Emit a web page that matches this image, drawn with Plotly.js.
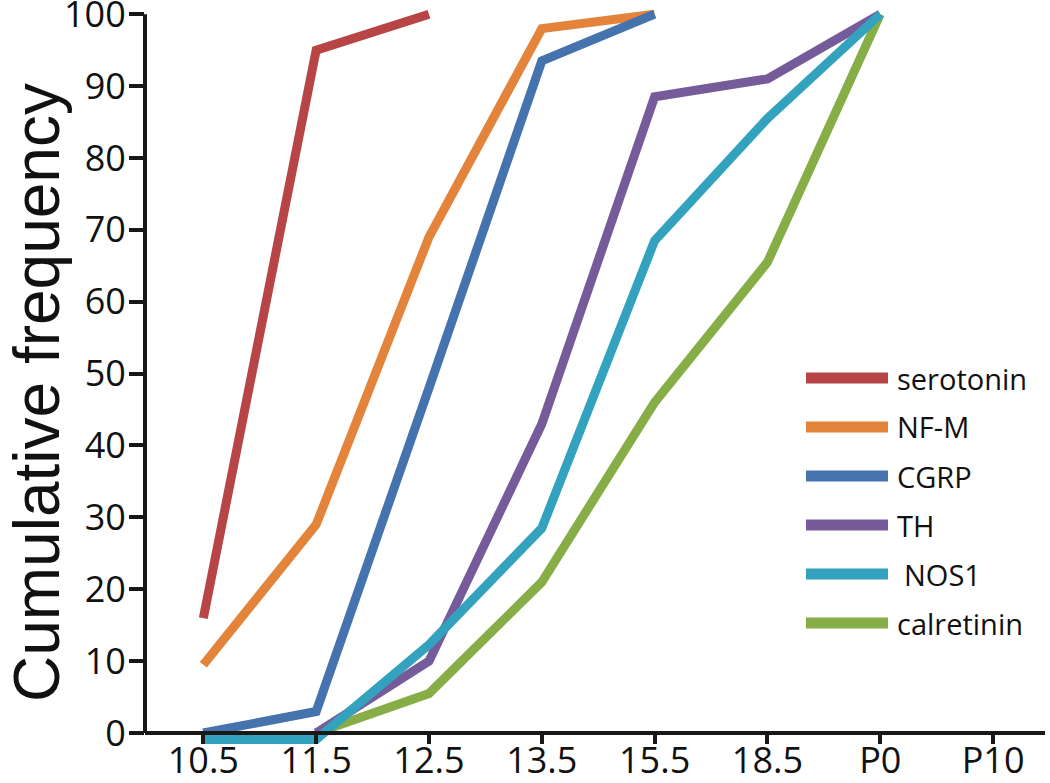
<!DOCTYPE html>
<html>
<head>
<meta charset="utf-8">
<script src="https://cdn.plot.ly/plotly-3.0.1.min.js"></script>
<style>html,body{margin:0;padding:0;background:#fff;}#chart{width:1050px;height:783px;}</style>
</head>
<body>
<div id="chart"></div>
<script>
// ---- data ----
var stages = ["10.5", "11.5", "12.5", "13.5", "15.5", "18.5", "P0", "P10"];
var serotonin  = [16, 95, 100, null, null, null, null, null];
var nfm        = [9.5, 29, 69, 98, 100, null, null, null];
var cgrp       = [0, 3, 48, 93.5, 100, null, null, null];
var th         = [null, 0, 10, 43, 88.5, 91, 100, null];
var nos1       = [-0.9, -0.9, 12.3, 28.5, 68.5, 85.5, 100, null];
var calretinin = [null, 0, 5.5, 21, 46, 65.5, 100, null];
var seriesNames = ["serotonin", "NF-M", "CGRP", "TH", "NOS1", "calretinin"];
var yTickVals = [0, 10, 20, 30, 40, 50, 60, 70, 80, 90, 100];
var yTitle = "Cumulative frequency";

// ---- styling ----
var colors = {
  "serotonin": "#B84545",
  "NF-M": "#E3843A",
  "CGRP": "#4473AE",
  "TH": "#765B9A",
  "NOS1": "#33A2BF",
  "calretinin": "#87AE46"
};
var values = {
  "serotonin": serotonin, "NF-M": nfm, "CGRP": cgrp,
  "TH": th, "NOS1": nos1, "calretinin": calretinin
};
var drawOrder = ["serotonin", "NF-M", "CGRP", "calretinin", "TH", "NOS1"];

var traces = drawOrder.map(function (n) {
  return {
    type: "scatter", mode: "lines", name: n,
    x: stages, y: values[n],
    line: {color: colors[n], width: 9},
    connectgaps: false, showlegend: false, hoverinfo: "x+y+name"
  };
});

var W = 1050, H = 783;
var mL = 145, mR = 5, mT = 7, mB = 32;
var pw = W - mL - mR, ph = H - mT - mB;
var yMin = -2.5, yMax = 101;

function px2paperX(px) { return (px - mL) / pw; }
function px2paperY(py) { return (H - mB - py) / ph; }

var shapes = [
  // y axis line from 0 to 100
  {type: "line", xref: "paper", yref: "y", x0: 0, x1: 0, y0: 0, y1: 100,
   line: {color: "#1a1718", width: 4}, layer: "above"}
];
var annotations = [
  {xref: "paper", yref: "paper", x: px2paperX(37), y: px2paperY(393),
   xanchor: "center", yanchor: "middle", textangle: -90, showarrow: false,
   text: yTitle,
   font: {family: "Liberation Sans, Arial, sans-serif", size: 64, color: "#111"}}
];
var rowY0 = 378, rowStep = 49;
seriesNames.forEach(function (n, i) {
  var py = rowY0 + i * rowStep;
  shapes.push({type: "line", xref: "paper", yref: "paper",
    x0: px2paperX(806), x1: px2paperX(888), y0: px2paperY(py), y1: px2paperY(py),
    line: {color: colors[n], width: 11}});
  annotations.push({xref: "paper", yref: "paper",
    x: px2paperX(n === "NOS1" ? 902 : 895), y: px2paperY(py),
    xanchor: "left", yanchor: "middle", showarrow: false, text: n,
    font: {family: "Open Sans, sans-serif", size: 29, color: "#111"}});
});

var layout = {
  width: W, height: H,
  margin: {l: mL, r: mR, t: mT, b: mB, pad: 0},
  paper_bgcolor: "#fff", plot_bgcolor: "#fff",
  showlegend: false,
  xaxis: {
    type: "category", categoryorder: "array", categoryarray: stages,
    range: [-0.517, 7.46], fixedrange: true,
    anchor: "free", position: (0 - yMin) / (yMax - yMin),
    showline: true, linecolor: "#1a1718", linewidth: 4,
    ticks: "outside", ticklen: 9, tickwidth: 4, tickcolor: "#1a1718",
    showgrid: false, zeroline: false, automargin: false,
    ticklabelstandoff: -14, ticklabeloverflow: "allow",
    tickfont: {family: "Open Sans, sans-serif", size: 36, color: "#111"}
  },
  yaxis: {
    range: [yMin, yMax], fixedrange: true,
    tickmode: "array", tickvals: yTickVals, ticktext: yTickVals.map(String),
    showline: false, showgrid: false, zeroline: false,
    ticks: "outside", ticklen: 15, tickwidth: 4, tickcolor: "#1a1718",
    automargin: false, ticklabelstandoff: -4, ticklabeloverflow: "allow",
    tickfont: {family: "Open Sans, sans-serif", size: 36, color: "#111"}
  },
  shapes: shapes,
  annotations: annotations
};

Plotly.newPlot("chart", traces, layout, {displayModeBar: false, staticPlot: true});
</script>
</body>
</html>
